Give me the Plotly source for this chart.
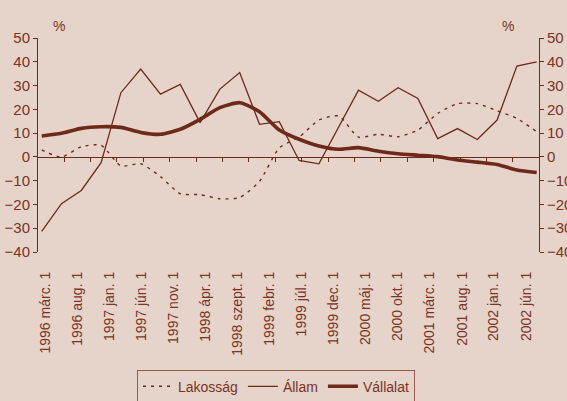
import plotly.graph_objects as go

# Data: quarterly observations, x given in months from 1996 márc.
months = [0, 3, 6, 9, 12, 15, 18, 21, 24, 27, 30, 33, 36, 39, 42, 45, 48, 51, 54, 57, 60, 63, 66, 69, 72, 75]
lakossag = [2.9, -0.1, 4.3, 4.9, -3.8, -2.9, -8.3, -15.5, -15.9, -17.6, -17.1, -10.3, 3.8,
            8.3, 15.5, 17.2, 8.3, 9.5, 8.5, 11.3, 18.3, 22.4, 22.4, 19.4, 16.2, 10.6]
allam = [-31.3, -19.7, -14.1, -2.4, 27.0, 36.9, 26.4, 30.5, 14.4, 28.5, 35.5, 13.7, 14.8,
         -1.5, -2.9, 12.6, 28.1, 23.4, 29.1, 24.6, 7.7, 11.9, 7.3, 15.5, 38.2, 40.0]
vallalat = [8.8, 9.9, 12.0, 12.7, 12.4, 10.3, 9.5, 11.6, 15.8, 20.7, 22.8, 19.0, 11.3,
            7.4, 4.6, 3.2, 3.9, 2.4, 1.3, 0.7, 0.1, -1.3, -2.2, -3.2, -5.5, -6.6]

tick_labels = ["1996 márc. 1", "1996 aug. 1", "1997 jan. 1", "1997 jún. 1", "1997 nov. 1",
               "1998 ápr. 1", "1998 szept. 1", "1999 febr. 1", "1999 júl. 1", "1999 dec. 1",
               "2000 máj. 1", "2000 okt. 1", "2001 márc. 1", "2001 aug. 1", "2002 jan. 1",
               "2002 jún. 1"]
label_pos = [0.5, 5.4, 10.2, 15.1, 19.9, 24.8, 29.7, 34.5, 39.4, 44.2, 49.1, 53.9, 58.8,
             63.7, 68.5, 73.4]
minor_pos = [3.4, 7.4, 11.4, 15.4, 19.4, 23.4, 27.4, 31.4, 35.4, 39.4, 43.4, 47.4, 51.4,
             55.4, 59.4, 63.4, 67.4, 71.4]

BG = "#E6D4CB"
LINE = "#6E2919"
TXT = "#7A3324"
FONT = "Liberation Sans, Arial, sans-serif"
XR = [-0.56, 75.35]
YR = [-40, 50]

fig = go.Figure()
fig.add_trace(go.Scatter(x=months, y=lakossag, name="Lakosság", mode="lines",
                         line=dict(color=LINE, width=1.4, dash="3px,5px", shape="spline", smoothing=0.6),
                         xaxis="x2", yaxis="y"))
fig.add_trace(go.Scatter(x=months, y=allam, name="Állam", mode="lines",
                         line=dict(color=LINE, width=1.3), xaxis="x2", yaxis="y"))
fig.add_trace(go.Scatter(x=months, y=vallalat, name="Vállalat", mode="lines",
                         line=dict(color=LINE, width=3.6, shape="spline", smoothing=0.6),
                         xaxis="x2", yaxis="y"))
# empty helper traces so the decorative axes get drawn
for ya in ["y2", "y3"]:
    fig.add_trace(go.Scatter(x=[None], y=[None], mode="lines", showlegend=False,
                             hoverinfo="skip", xaxis="x", yaxis=ya))

fig.update_layout(
    width=567, height=401,
    paper_bgcolor=BG, plot_bgcolor=BG,
    margin=dict(l=38, r=28, t=38, b=149, autoexpand=False),
    font=dict(family=FONT, size=14, color=TXT),
    showlegend=True,
    legend=dict(orientation="h", x=0.475, xanchor="center", y=-0.55, yanchor="top",
                bgcolor=BG, bordercolor="#9A5A4A", borderwidth=1,
                font=dict(family=FONT, size=14, color=TXT), itemwidth=30),
    xaxis=dict(range=XR, showgrid=False, zeroline=False, showline=False,
               tickmode="array", tickvals=label_pos, ticktext=tick_labels,
               tickangle=-90, ticks="", ticklabelstandoff=16,
               tickfont=dict(family=FONT, size=14, color=TXT)),
    xaxis2=dict(range=XR, overlaying="x", anchor="free", position=40 / 90,
                showgrid=False, zeroline=False, showline=True, linecolor=LINE, linewidth=1,
                tickmode="array", tickvals=minor_pos, ticks="outside", ticklen=4,
                tickcolor=LINE, showticklabels=False),
    yaxis=dict(range=YR, dtick=10, showgrid=False, zeroline=False, showline=True,
               linecolor=LINE, linewidth=1, ticks="outside", ticklen=4, tickcolor=LINE,
               tickfont=dict(family=FONT, size=15, color=TXT)),
    yaxis2=dict(range=YR, dtick=10, overlaying="y", side="right", anchor="x", showgrid=False,
                zeroline=False, showline=True, linecolor=LINE, linewidth=1,
                ticks="outside", ticklen=4, tickcolor=LINE,
                tickfont=dict(family=FONT, size=15, color=TXT)),
    yaxis3=dict(range=YR, dtick=10, overlaying="y", side="right", anchor="x", showgrid=False,
                zeroline=False, showline=False, ticks="inside", ticklen=4, tickcolor=LINE,
                showticklabels=False),
    annotations=[
        dict(text="%", xref="paper", yref="paper", x=0.026, y=1.103, showarrow=False,
             font=dict(family=FONT, size=14, color=TXT)),
        dict(text="%", xref="paper", yref="paper", x=0.954, y=1.103, showarrow=False,
             font=dict(family=FONT, size=14, color=TXT)),
    ],
)

fig.write_html("out.html", config={"displayModeBar": False},
               post_script="document.body.style.margin='0';document.body.style.overflow='hidden';")
